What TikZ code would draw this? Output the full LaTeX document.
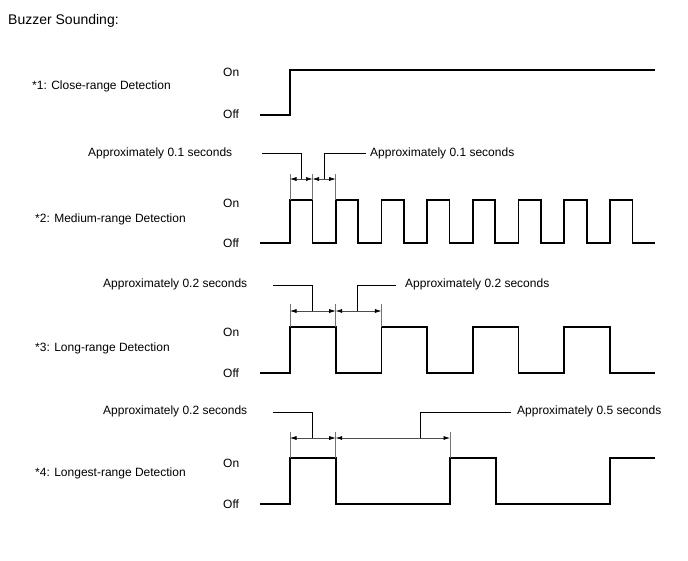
\documentclass[tikz,border=0pt]{standalone}
\usepackage{fontspec}
\setmainfont{Liberation Sans}
\usetikzlibrary{arrows.meta, positioning, calc}

\begin{document}
\begin{tikzpicture}[
   x=1pt, y=-1pt,
   txt/.style={font=\fontsize{12}{14}\selectfont, inner sep=0pt, anchor=west},
   wave/.style={line width=1.7pt, line join=miter},
   extline/.style={black!55, line width=0.5pt},
   dimline/.style={black!70, line width=0.6pt, {Latex[length=6.5pt,width=4pt,black]}-{Latex[length=6.5pt,width=4pt,black]}},
   leader/.style={line width=0.8pt}
]
   \useasboundingbox (0,0) rectangle (688,560);

   % Title
   \node[txt, font=\fontsize{14}{16}\selectfont] (title) at (8,21) {Buzzer Sounding:};

   % Signal 1
   \node[txt] (lbl1) at (32,86) {*1: Close-range Detection};
   \node[txt] (on1) at (223,72) {On};
   \node[txt] (off1) at (223,114) {Off};
   \draw[wave] (260,115) -- (290,115) -- (290,70) -- (655,70);

   % Signal 2
   \node[txt] (lbl2) at (35,219) {*2: Medium-range Detection};
   \node[txt] (on2) at (223,203) {On};
   \node[txt] (off2) at (223,243) {Off};
   \draw[wave] (260,243) foreach \x in {290,335.7,381.4,427.1,472.8,518.5,564.2,609.9} {
      -- (\x,243) -- (\x,200) -- (\x+22.5,200) -- (\x+22.5,243)} -- (655,243);
   \foreach \x/\n in {290/a, 312.5/b, 335.7/c} {
      \coordinate (d2\n) at (\x,179);
      \draw[extline] (\x,174) -- (\x,200);
   }
   \draw[dimline] (d2a) -- (d2b);
   \draw[dimline] (d2b) -- (d2c);
   \node[txt] (t2a) at (88,153) {Approximately 0.1 seconds};
   \node[txt] (t2b) at (370,153) {Approximately 0.1 seconds};
   \coordinate (l2a) at (262,153);
   \coordinate (l2b) at (366,153);
   \draw[leader] (l2a) -| ($(d2a)!0.5!(d2b)$);
   \draw[leader] ($(d2b)!0.5!(d2c)$) |- (l2b);

   % Signal 3
   \node[txt] (lbl3) at (35,348) {*3: Long-range Detection};
   \node[txt] (on3) at (223,332) {On};
   \node[txt] (off3) at (223,373) {Off};
   \draw[wave] (260,373) foreach \x in {290,381.4,472.8,564.2} {
      -- (\x,373) -- (\x,327) -- (\x+45.7,327) -- (\x+45.7,373)} -- (655,373);
   \foreach \x/\n in {290/a, 335.7/b, 381.4/c} {
      \coordinate (d3\n) at (\x,311);
      \draw[extline] (\x,304) -- (\x,327);
   }
   \draw[dimline] (d3a) -- (d3b);
   \draw[dimline] (d3b) -- (d3c);
   \node[txt] (t3a) at (103,284) {Approximately 0.2 seconds};
   \node[txt] (t3b) at (405,284) {Approximately 0.2 seconds};
   \coordinate (l3a) at (273,285);
   \coordinate (l3b) at (396,285);
   \draw[leader] (l3a) -| (312,311);
   \draw[leader] (357,311) |- (l3b);

   % Signal 4
   \node[txt] (lbl4) at (35,473) {*4: Longest-range Detection};
   \node[txt] (on4) at (223,463) {On};
   \node[txt] (off4) at (223,504) {Off};
   \draw[wave] (260,504) -- (290,504) -- (290,458) -- (335.7,458) -- (335.7,504)
      -- (450,504) -- (450,458) -- (495.7,458) -- (495.7,504)
      -- (609.9,504) -- (609.9,458) -- (655,458);
   \foreach \x/\n in {290/a, 335.7/b, 450/c} {
      \coordinate (d4\n) at (\x,438);
      \draw[extline] (\x,432) -- (\x,458);
   }
   \draw[dimline] (d4a) -- (d4b);
   \draw[dimline] (d4b) -- (d4c);
   \node[txt] (t4a) at (103,411) {Approximately 0.2 seconds};
   \node[txt] (t4b) at (517,411) {Approximately 0.5 seconds};
   \coordinate (l4a) at (273,412);
   \coordinate (l4b) at (511,412);
   \draw[leader] (l4a) -| (312,438);
   \draw[leader] (420,438) |- (l4b);
\end{tikzpicture}
\end{document}
